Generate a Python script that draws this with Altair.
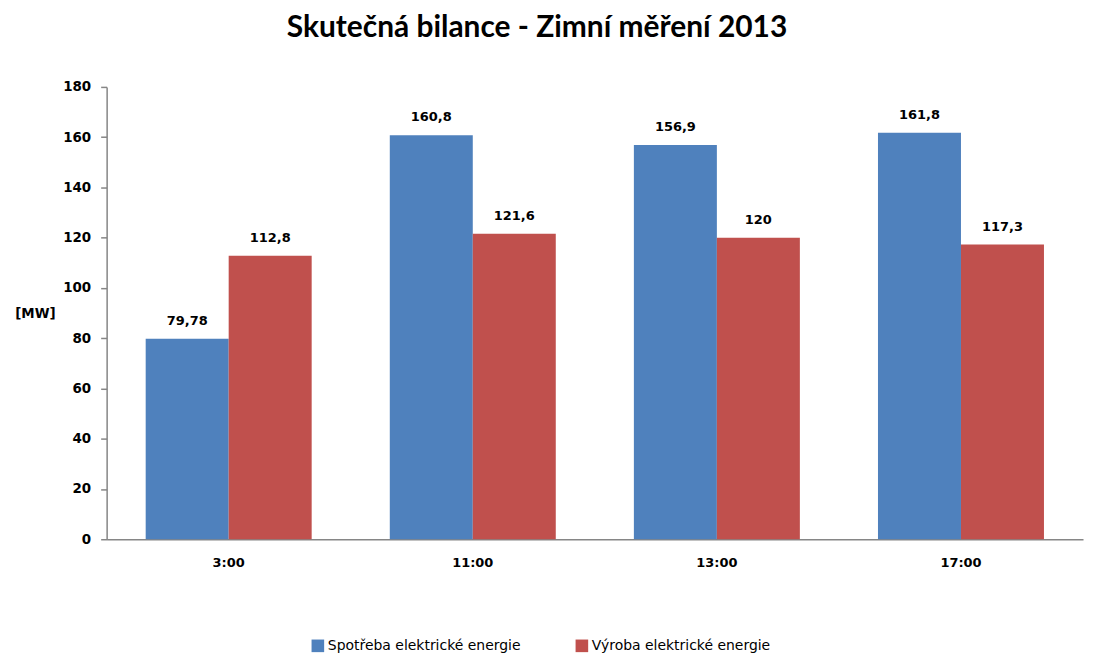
import altair as alt
import pandas as pd

categories = ["3:00", "11:00", "13:00", "17:00"]
series = ["Spotřeba elektrické energie", "Výroba elektrické energie"]
spotreba = [79.78, 160.8, 156.9, 161.8]
vyroba = [112.8, 121.6, 120, 117.3]
spotreba_labels = ["79,78", "160,8", "156,9", "161,8"]
vyroba_labels = ["112,8", "121,6", "120", "117,3"]
y_ticks = [0, 20, 40, 60, 80, 100, 120, 140, 160, 180]

rows = []
for c, v, l in zip(categories, spotreba, spotreba_labels):
    rows.append({"cas": c, "serie": series[0], "hodnota": v, "popis": l})
for c, v, l in zip(categories, vyroba, vyroba_labels):
    rows.append({"cas": c, "serie": series[1], "hodnota": v, "popis": l})
df = pd.DataFrame(rows)

TFONT = "Lato"
FONT = "DejaVu Sans"

x = alt.X("cas:N", sort=categories,
          scale=alt.Scale(paddingInner=0.32, paddingOuter=0.16),
          axis=alt.Axis(title=None, labelAngle=0, ticks=False, labelPadding=17,
                        labelFontSize=13, labelFont=FONT, labelFontWeight="bold",
                        labelColor="#000000", domainColor="#868686", domainWidth=1.5))
y = alt.Y("hodnota:Q", scale=alt.Scale(domain=[0, 180], nice=False),
          axis=alt.Axis(values=y_ticks, grid=False, title="[MW]", titleAngle=0,
                        titleX=-72, titleY=227, titleAlign="center",
                        titleBaseline="middle",
                        titleFont=FONT, titleFontSize=13.5, titleFontWeight="bold",
                        labelFont=FONT, labelFontSize=13.5, labelFontWeight="bold",
                        labelColor="#000000", labelPadding=10,
                        tickSize=6, tickColor="#868686", domainColor="#868686",
                        domainWidth=1.5, tickWidth=1.5))
xo = alt.XOffset("serie:N", sort=series, scale=alt.Scale(paddingInner=0, paddingOuter=0))
color = alt.Color("serie:N", sort=series,
                  scale=alt.Scale(domain=series, range=["#4F81BD", "#C0504D"]),
                  legend=alt.Legend(title=None, orient="none", direction="horizontal",
                                    legendX=205, legendY=554, padding=0,
                                    symbolType="square",
                                    symbolSize=160, symbolStrokeWidth=0,
                                    symbolOpacity=1, labelLimit=400,
                                    labelFont=FONT, labelFontSize=14, labelColor="#000000",
                                    columnPadding=54, labelOffset=3))

bars = alt.Chart(df).mark_bar(opacity=1).encode(x=x, y=y, xOffset=xo, color=color)
labels = alt.Chart(df).mark_text(baseline="alphabetic", dy=-14, font=FONT, fontSize=13,
                                 fontWeight="bold", color="#000000").encode(
    x=alt.X("cas:N", sort=categories), xOffset=xo, y="hodnota:Q", text="popis:N")

chart = alt.layer(bars, labels).properties(
    width=980, height=454,
    background="white",
    title=alt.TitleParams("Skutečná bilance - Zimní měření 2013", font=TFONT,
                          fontSize=30, fontWeight="bold", color="#000000",
                          anchor="middle", dx=-58, offset=37),
    autosize=alt.AutoSizeParams(type="none"),
    padding={"left": 99, "top": 78, "right": 5, "bottom": 116},
).configure_view(stroke=None)

chart.save("out.html", embed_options={"renderer": "svg", "actions": False})
